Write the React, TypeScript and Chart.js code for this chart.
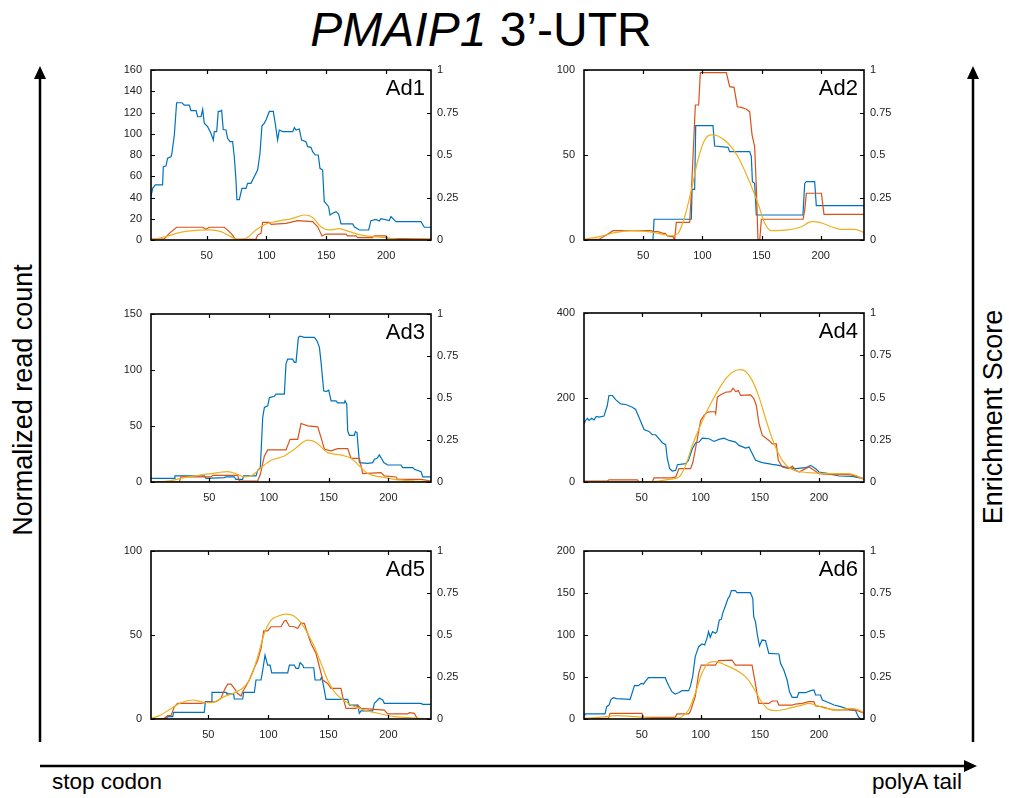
import React, { useEffect, useRef } from 'react';
import { Chart, registerables } from 'chart.js';

Chart.register(...registerables);
Chart.defaults.font.family = "'Liberation Sans', Arial, Helvetica, sans-serif";
Chart.defaults.font.size = 11;

type Pt = [number, number];

const BLUE = '#0072BD';
const RED = '#D95319';
const ORANGE = '#EDB120';

const xTickValues = [50, 100, 150, 200];
const scoreTicks = [0, 0.25, 0.5, 0.75, 1];

const ad1CountTicks = [0, 20, 40, 60, 80, 100, 120, 140, 160];
const ad2CountTicks = [0, 50, 100];
const ad3CountTicks = [0, 50, 100, 150];
const ad4CountTicks = [0, 200, 400];
const ad5CountTicks = [0, 50, 100];
const ad6CountTicks = [0, 50, 100, 150, 200];

// Ad1
const ad1Blue: Pt[] = [[3.5,40.8],[4.9,48.6],[7.1,51.8],[13.2,51.8],[13.8,69],[16,69.6],[17.4,77],[20.2,78.4],[21,81.6],[23,98.8],[24.9,129.2],[29.4,129.2],[31.3,127],[35.5,127],[36.9,121.7],[41.1,121.7],[42.5,116],[45.3,116],[46.7,123],[48,110],[50.8,106.7],[53.6,100.4],[55.6,94],[56.4,102],[58.4,102],[59.7,121],[61.1,121],[62.5,122],[63.9,104],[66.2,103.5],[67.5,95.7],[69.5,92.5],[71.7,92.5],[73.1,78.4],[74.5,56.5],[75.3,38],[77.3,38],[79.5,48.6],[82.9,48.6],[84.3,53.3],[87,53.3],[89.8,59.6],[92.6,65.9],[94.6,81.6],[96.2,107.3],[98.2,110],[99.6,113],[102.4,121],[105.7,121],[107.1,111.5],[109.3,94],[110.7,103.5],[113.5,102],[121.9,102],[123.3,105.8],[124.7,103.5],[127.4,104.5],[129.4,94],[133,92.5],[134.4,87.8],[137.2,87.2],[138.6,83.1],[140.8,80],[143.3,80],[144.7,67.5],[146.9,65.9],[148.3,36.1],[149.7,34.5],[151.9,31.4],[153.1,23.5],[155.3,25.1],[158.1,26.7],[160.3,24.5],[162.3,15.1],[172,15.1],[173.4,12.5],[177.6,9.4],[185.4,9.4],[187.3,18.2],[191.5,19.4],[194.3,17.9],[195.7,20.1],[202.6,18.2],[204,22],[208.2,17.3],[229.1,17.3],[231.9,12],[237.5,12]];
const ad1Red: Pt[] = [[3.5,0.006],[14.6,0.006],[18.8,0.039],[24.9,0.075],[46.7,0.075],[49.4,0.063],[52.2,0.075],[64.8,0.075],[68.9,0.049],[71.7,0.029],[74,0.004],[91.2,0.004],[92.6,0.029],[95.4,0.039],[96.8,0.104],[102.4,0.104],[103.8,0.092],[116.3,0.098],[126,0.114],[138.6,0.108],[142.8,0.078],[146.4,0.024],[149.7,0.035],[166.4,0.035],[167.8,0.024],[174.8,0.024],[176.2,0.014],[188.7,0.014],[190.1,0.024],[199.9,0.024],[201.3,0.01],[237.5,0.006]];
const ad1Orange: Pt[] = [[3.5,0],[16,0.02],[27.2,0.043],[38.3,0.055],[52.2,0.059],[62,0.049],[68.9,0.024],[75.9,0.004],[82.9,0.01],[91.2,0.059],[99.6,0.094],[110.7,0.112],[121.9,0.127],[131.6,0.147],[138.6,0.133],[145.5,0.078],[152.5,0.059],[160.9,0.067],[169.2,0.049],[183.1,0.024],[197.1,0.016],[211,0.004],[237.5,0.004]];

// Ad2
const ad2Blue: Pt[] = [[0,0],[58.3,0],[59.2,12.2],[90.7,12.2],[91.3,29.8],[93.5,29.8],[94.4,67.3],[109,67.3],[110.4,55.3],[121.7,54.5],[123.1,52],[140,52],[141.4,49],[142.3,34.3],[144.2,33.3],[145.6,14.7],[185,14.7],[186.5,33.3],[187.9,34.3],[194.9,34.3],[196.3,20.2],[236.6,20.2]];
const ad2Red: Pt[] = [[0,0],[13.2,0.006],[18.9,0.029],[24.5,0.055],[56.9,0.055],[58.3,0.049],[62.5,0.049],[66.8,0.039],[68.7,0.039],[70.4,0.024],[75.2,0.02],[76.6,0],[78,0.104],[89.3,0.104],[90.7,0.275],[94.1,0.794],[96.9,0.794],[98.3,0.984],[120.3,0.984],[123.1,0.902],[126.8,0.898],[129.6,0.784],[133,0.78],[137.2,0.769],[140,0.755],[142,0.618],[144.2,0.549],[145.6,0.314],[147,0],[148.5,0],[149.9,0.122],[185.1,0.122],[186.5,0.176],[187.9,0.275],[200.6,0.275],[202.8,0.151],[236.6,0.151]];
const ad2Orange: Pt[] = [[0,0.004],[13.2,0.02],[25.9,0.043],[40,0.055],[54.1,0.049],[65.4,0.035],[73.8,0.025],[79.4,0.039],[85.1,0.137],[90.7,0.294],[96.3,0.471],[102,0.588],[107.6,0.618],[113.2,0.612],[121.7,0.569],[130.1,0.49],[138.6,0.363],[147,0.216],[152.7,0.098],[158.3,0.055],[172.4,0.059],[183.7,0.078],[192.1,0.108],[199.2,0.104],[209,0.078],[217.5,0.063],[228.7,0.063],[236.6,0.043]];

// Ad3
const ad3Blue: Pt[] = [[1.1,3.3],[20.7,3.3],[21.2,5.4],[45.8,5.4],[47.2,3.3],[62.5,3.9],[63.9,4.5],[70.9,4.5],[72.3,2.4],[77.9,2.4],[78.7,5.4],[89.1,5.4],[90.5,10.4],[92.7,12.8],[94.7,57.6],[96.1,66.5],[98.9,68],[100.3,75.4],[104.5,76.6],[105.9,78.4],[112.8,78.4],[114.2,105.3],[115.6,109.7],[119.8,109.7],[121.2,106.8],[122.6,106.8],[124.6,129.1],[126,130.3],[129.6,129.1],[138,129.1],[140.2,126.1],[142.2,120.2],[143.6,106.8],[145.8,81.4],[147.8,80.8],[150,82],[152,72.5],[156.1,72.5],[157.5,70.7],[163.1,70.7],[163.7,72.5],[165.1,69.5],[165.9,45.6],[167.3,41.7],[171.5,41.7],[172.3,45],[173.7,44.1],[175.7,17.3],[182.7,16.7],[186.9,17.3],[188.3,20.3],[190.5,21.2],[192.4,24.2],[193.8,21.8],[196.1,17.3],[199.4,15.2],[210.6,15.2],[212,12.8],[220.4,12.8],[221.8,11.3],[227.4,9.2],[228.8,4.5],[235.7,4.5]];
const ad3Red: Pt[] = [[1.1,0],[24.8,0],[26.2,0.03],[51.4,0.03],[52.8,0.04],[73.7,0.04],[75.1,0.006],[90.5,0.006],[92.7,0.046],[96.1,0.155],[98.9,0.191],[114.2,0.191],[117.6,0.254],[124,0.254],[126.8,0.348],[132.4,0.334],[140.8,0.328],[143.6,0.264],[146.4,0.195],[152,0.185],[157.5,0.199],[165.9,0.199],[168.7,0.141],[175.7,0.141],[178.5,0.05],[193.8,0.056],[196.6,0.036],[206.4,0.03],[207.8,0.016],[227.4,0.016],[235.7,0.006]];
const ad3Orange: Pt[] = [[1.1,0.002],[15.1,0.006],[29,0.026],[43,0.042],[56.9,0.056],[65.3,0.062],[73.7,0.046],[79.3,0.03],[86.3,0.042],[93.3,0.085],[101.7,0.129],[112.8,0.155],[121.2,0.195],[132.4,0.249],[139.4,0.235],[149.1,0.175],[160.3,0.161],[168.7,0.141],[175.7,0.095],[182.7,0.05],[193.8,0.03],[205,0.016],[221.8,0.006],[235.7,0.002]];

// Ad4
const ad4Blue: Pt[] = [[1.2,137.8],[2.6,145.7],[4,151],[5.4,145.7],[7.7,151],[9.7,147],[11.6,155],[13.9,153.5],[18.1,156],[20.9,181],[22.3,204.7],[25.2,204.7],[28,195],[32.2,185],[36.5,183.5],[42.1,177],[44.9,171.7],[47.7,153.5],[52,124.4],[56.2,119.7],[59,111.8],[61.8,111.8],[64.6,102.4],[67.5,92.9],[70.3,88.2],[71.7,55],[73.7,31.5],[75.9,26],[78.8,27.6],[80.2,41],[87.2,43.3],[89.5,51.2],[92.9,78.7],[95.7,92.9],[98.5,94.5],[101.3,103.9],[107,102.4],[111.2,96],[115.4,100.8],[119.6,103.9],[123.9,98.4],[129.5,94.5],[132.3,86.6],[138,80.3],[140.8,82.7],[143.6,66.9],[146.4,51.2],[152.1,45.7],[160.5,41.7],[166.2,39.4],[173.2,33.9],[180.3,31.5],[188.7,33.9],[193,39.4],[197.2,31.5],[200,23.6],[208.5,19.7],[216.9,14.2],[228.2,13.4],[238.1,7.9]];
const ad4Red: Pt[] = [[1.2,0.006],[20.9,0.006],[22.3,0.012],[46.3,0.012],[47.7,0],[59,0],[60.4,0.024],[75.9,0.024],[78.8,0.03],[81.6,0.079],[91.4,0.079],[93.4,0.118],[97.1,0.256],[99.9,0.364],[102.7,0.394],[105.5,0.413],[112,0.417],[112.6,0.404],[114,0.502],[116.8,0.516],[121,0.531],[125.3,0.535],[127.3,0.555],[129.5,0.535],[131.8,0.541],[133.7,0.512],[142.2,0.516],[145,0.492],[147,0.453],[149.3,0.344],[152.1,0.276],[157.7,0.246],[160.5,0.226],[163.9,0.226],[165.6,0.128],[169,0.089],[174.6,0.079],[177.5,0.094],[180.3,0.069],[183.1,0.059],[188.7,0.079],[191.6,0.089],[195.8,0.069],[200,0.049],[211.3,0.043],[225.4,0.045],[231,0.035],[238.1,0.016]];
const ad4Orange: Pt[] = [[1.2,0],[47.7,0],[64.6,0.006],[73.1,0.016],[81.6,0.03],[87.2,0.098],[92.9,0.217],[98.5,0.315],[104.1,0.404],[109.8,0.482],[115.4,0.551],[121,0.61],[126.7,0.65],[133.7,0.665],[138,0.654],[143.6,0.6],[149.3,0.502],[154.9,0.374],[160.5,0.256],[166.2,0.161],[171.8,0.102],[177.5,0.073],[185.9,0.059],[197.2,0.053],[211.3,0.049],[225.4,0.049],[232.4,0.035],[238.1,0.016]];

// Ad5
const ad5Blue: Pt[] = [[2.2,0],[14.7,0],[16.1,1.4],[20.3,1.4],[21.1,4],[46.6,4],[47.5,10.3],[52.2,10.3],[53,15.8],[64.7,15.8],[65.5,14.9],[71.1,14.9],[71.6,11.9],[78.6,11.9],[79.4,15.8],[88.3,15.8],[89.7,23.2],[93.9,23.2],[95.3,29.1],[97.2,38],[99.4,32.1],[101.4,32.1],[102.8,27.5],[116.1,27.5],[117.5,32.1],[121.6,32.1],[123,30.1],[125.2,30.1],[126.4,33.5],[128.6,32.1],[129.4,30.5],[137.8,30.5],[138.9,23.2],[143.3,23.2],[144.4,25.1],[146.1,19.2],[148,11.7],[166.1,11.7],[167.5,8.3],[174.4,8.3],[175.8,3.4],[177.2,4.8],[186.9,4.8],[188.3,9.3],[192.5,12.3],[195.3,11.3],[196.6,9.3],[227.2,9.3],[228.6,8.7],[235.5,8.7]];
const ad5Red: Pt[] = [[2.2,0],[13.3,0.004],[16.1,0.02],[18.9,0.02],[21.6,0.073],[24.4,0.093],[43.9,0.093],[48,0.099],[56.4,0.103],[60.5,0.123],[63.3,0.172],[66.1,0.208],[68.9,0.208],[71.6,0.182],[74.4,0.152],[77.2,0.137],[78.6,0.162],[81.4,0.196],[84.1,0.232],[86.9,0.281],[91.1,0.35],[93.9,0.42],[96.1,0.525],[99.4,0.525],[102.2,0.549],[110.5,0.549],[113.3,0.584],[114.7,0.588],[117.5,0.552],[121.6,0.549],[124.4,0.539],[127.2,0.572],[130,0.568],[132.7,0.509],[135.5,0.45],[139.7,0.39],[142.5,0.311],[145.3,0.232],[149.4,0.212],[152.2,0.182],[160.5,0.182],[161.9,0.133],[164.7,0.063],[173,0.063],[174.4,0.083],[177.2,0.063],[196.6,0.053],[199.4,0.03],[216.1,0.03],[217.5,0.038],[221.6,0.034],[223.9,0.004],[235.5,0]];
const ad5Orange: Pt[] = [[2.2,0.004],[10.5,0.024],[18.9,0.063],[27.2,0.097],[36.9,0.113],[43.9,0.103],[52.2,0.097],[63.3,0.133],[71.6,0.156],[80,0.192],[85.5,0.251],[91.1,0.37],[96.6,0.509],[102.2,0.588],[107.8,0.612],[114.7,0.624],[121.6,0.612],[127.2,0.572],[132.7,0.509],[138.3,0.43],[143.9,0.331],[149.4,0.232],[155,0.162],[160.5,0.123],[168.9,0.083],[180,0.053],[191.1,0.034],[205,0.014],[221.6,0.006],[235.5,0]];

// Ad6
const ad6Blue: Pt[] = [[1.1,4.8],[1.9,6],[18.9,6],[20.3,14.7],[22.3,16.7],[24,23.4],[26,25.4],[28.8,24.2],[40.1,23.4],[41.6,29.8],[43.8,39.7],[47.2,39.7],[49.5,42.5],[51.5,41.7],[52.9,44.4],[55.7,49.2],[69.9,49.2],[71.3,44.4],[73.3,38.5],[75.5,32.5],[78.3,29.8],[81.2,31.3],[84,33.7],[89.7,33.7],[91.1,38.5],[93.1,50.4],[95.3,74.2],[98.2,86.1],[101,89.3],[103.3,88.1],[105.2,96],[106.6,104],[108,97.2],[110,104],[112.3,102],[113.7,104],[115.7,117.9],[117.4,118.7],[118.5,125.8],[120.8,134.5],[123.1,143.7],[124.2,145.6],[125.9,152.8],[129.3,152.8],[130.7,150.4],[142,150.4],[144,143.7],[144.8,121.8],[146.3,115.9],[147.7,102],[149.7,86.9],[151.9,94],[154.8,93.3],[157.6,78.2],[166.1,77.4],[167.5,66.3],[170.3,58.3],[173.1,46.4],[175.1,32.5],[177.4,25.8],[181.6,25.8],[183,31.3],[188.7,31.3],[193,33.7],[195.8,34.5],[197.2,28.6],[201.4,28.6],[202.9,22.6],[208.5,19.4],[212.8,16.7],[218.4,14.7],[226.9,10.7],[231.1,9.9],[233.4,2.8],[235.4,0],[238.2,0]];
const ad6Red: Pt[] = [[1.1,0.004],[21.8,0.004],[23.2,0.034],[50.1,0.034],[51.5,0.01],[78.3,0.01],[79.8,0.03],[89.7,0.03],[91.1,0.044],[95.3,0.133],[98.2,0.272],[100.4,0.321],[112.3,0.321],[115.1,0.347],[126.4,0.351],[129.3,0.321],[143.4,0.321],[145.7,0.232],[149.1,0.093],[157.6,0.093],[160.4,0.107],[164.7,0.107],[166.1,0.083],[177.4,0.083],[180.2,0.089],[185.9,0.093],[191.5,0.103],[195.8,0.103],[197.2,0.077],[202.9,0.073],[211.3,0.054],[231.1,0.054],[238.2,0.034]];
const ad6Orange: Pt[] = [[1.1,0],[13.3,0.01],[30.2,0.02],[44.4,0.014],[61.4,0.004],[78.3,0.004],[84,0.014],[89.7,0.054],[95.3,0.153],[101,0.272],[106.6,0.335],[112.3,0.341],[120.8,0.321],[132.1,0.282],[139.2,0.242],[144.8,0.183],[150.5,0.113],[156.2,0.063],[163.2,0.05],[174.6,0.063],[185.9,0.083],[191.5,0.093],[197.2,0.083],[205.7,0.063],[217,0.054],[226.9,0.063],[234,0.054],[238.2,0.034]];

const PLOT_W = 280;
const PAD_L = 50;
const PAD_R = 50;
const PAD_T = 20;
const PAD_B = 30;

interface PanelProps {
  label: string;
  blue: Pt[];
  red: Pt[];
  orange: Pt[];
  countTicks: number[];
  xMin: number;
  xMax: number;
  left: number;
  top: number;
  plotH: number;
}

function makeFramePlugin(label: string, countTicks: number[]) {
  return {
    id: 'panelFrame',
    afterDraw(chart: any) {
      const { ctx, chartArea: a, scales } = chart;
      ctx.save();
      ctx.strokeStyle = '#000';
      ctx.lineWidth = 1.6;
      ctx.strokeRect(a.left, a.top, a.right - a.left, a.bottom - a.top);
      ctx.lineWidth = 1.2;
      ctx.beginPath();
      for (const v of xTickValues) {
        const px = Math.round(scales.x.getPixelForValue(v)) + 0.5;
        ctx.moveTo(px, a.bottom);
        ctx.lineTo(px, a.bottom - 4);
        ctx.moveTo(px, a.top);
        ctx.lineTo(px, a.top + 4);
      }
      for (const v of countTicks) {
        const py = Math.round(scales.y.getPixelForValue(v)) + 0.5;
        ctx.moveTo(a.left, py);
        ctx.lineTo(a.left + 4, py);
      }
      for (const v of scoreTicks) {
        const py = Math.round(scales.y1.getPixelForValue(v)) + 0.5;
        ctx.moveTo(a.right, py);
        ctx.lineTo(a.right - 4, py);
      }
      ctx.stroke();
      ctx.fillStyle = '#000';
      ctx.font = "22px 'Liberation Sans', Arial, Helvetica, sans-serif";
      ctx.textAlign = 'right';
      ctx.textBaseline = 'alphabetic';
      ctx.fillText(label, a.right - 6, a.top + 25);
      ctx.restore();
    },
  };
}

function Panel(props: PanelProps) {
  const { label, blue, red, orange, countTicks, xMin, xMax, left, top, plotH } = props;
  const ref = useRef<HTMLCanvasElement>(null);
  const W = PLOT_W + PAD_L + PAD_R;
  const H = plotH + PAD_T + PAD_B;

  useEffect(() => {
    if (!ref.current) return;
    const tickFont = { size: 11, family: "'Liberation Sans', Arial, Helvetica, sans-serif" };
    const chart = new Chart(ref.current, {
      type: 'line',
      data: {
        datasets: [
          {
            data: orange as any,
            yAxisID: 'y1',
            borderColor: ORANGE,
            borderWidth: 1.2,
            pointRadius: 0,
            tension: 0.4,
            cubicInterpolationMode: 'monotone',
            fill: false,
            order: 0,
          },
          {
            data: red as any,
            yAxisID: 'y1',
            borderColor: RED,
            borderWidth: 1.2,
            pointRadius: 0,
            tension: 0,
            fill: false,
            order: 1,
          },
          {
            data: blue as any,
            yAxisID: 'y',
            borderColor: BLUE,
            borderWidth: 1.2,
            pointRadius: 0,
            tension: 0,
            fill: false,
            order: 2,
          },
        ],
      },
      options: {
        responsive: false,
        animation: false,
        events: [],
        layout: { padding: { top: PAD_T, left: 0, right: 0, bottom: 0 } },
        plugins: { legend: { display: false }, tooltip: { enabled: false } },
        scales: {
          x: {
            type: 'linear',
            min: xMin,
            max: xMax,
            grid: { display: false, drawTicks: false },
            border: { display: false },
            afterBuildTicks: (s: any) => {
              s.ticks = xTickValues.map((v) => ({ value: v }));
            },
            afterFit: (s: any) => {
              s.height = PAD_B;
            },
            ticks: {
              padding: 9,
              font: tickFont,
              color: '#222',
              autoSkip: false,
              maxRotation: 0,
              callback: (v: any) => String(v),
            },
          },
          y: {
            type: 'linear',
            position: 'left',
            min: 0,
            max: countTicks[countTicks.length - 1],
            grid: { display: false, drawTicks: false },
            border: { display: false },
            afterBuildTicks: (s: any) => {
              s.ticks = countTicks.map((v) => ({ value: v }));
            },
            afterFit: (s: any) => {
              s.width = PAD_L;
            },
            ticks: {
              padding: 9,
              font: tickFont,
              color: '#222',
              autoSkip: false,
              callback: (v: any) => String(v),
            },
          },
          y1: {
            type: 'linear',
            position: 'right',
            min: 0,
            max: 1,
            grid: { display: false, drawTicks: false },
            border: { display: false },
            afterBuildTicks: (s: any) => {
              s.ticks = scoreTicks.map((v) => ({ value: v }));
            },
            afterFit: (s: any) => {
              s.width = PAD_R;
            },
            ticks: {
              padding: 6,
              font: tickFont,
              color: '#222',
              autoSkip: false,
              callback: (v: any) => String(v),
            },
          },
        },
      } as any,
      plugins: [makeFramePlugin(label, countTicks)],
    });
    return () => chart.destroy();
  }, []);

  return (
    <canvas
      ref={ref}
      width={W}
      height={H}
      style={{ position: 'absolute', left: left - PAD_L, top: top - PAD_T, width: W, height: H }}
    />
  );
}

const textFont = "'Liberation Sans', Arial, Helvetica, sans-serif";

export default function App() {
  return (
    <div
      style={{
        position: 'absolute',
        left: 0,
        top: 0,
        width: 1009,
        height: 798,
        background: '#fff',
        overflow: 'hidden',
        fontFamily: textFont,
        color: '#000',
      }}
    >
      <div
        style={{
          position: 'absolute',
          left: 0,
          top: 6,
          width: 962,
          textAlign: 'center',
          fontSize: 48,
          lineHeight: '48px',
          whiteSpace: 'nowrap',
        }}
      >
        <i>PMAIP1</i> 3’-UTR
      </div>

      <svg
        width={1009}
        height={798}
        style={{ position: 'absolute', left: 0, top: 0, pointerEvents: 'none' }}
      >
        <line x1={40} y1={742} x2={40} y2={76} stroke="#000" strokeWidth={2.5} />
        <polygon points="40,66 34,79 46,79" fill="#000" />
        <line x1={973} y1={742} x2={973} y2={76} stroke="#000" strokeWidth={2.5} />
        <polygon points="973,66 967,79 979,79" fill="#000" />
        <line x1={40} y1={766} x2={966} y2={766} stroke="#000" strokeWidth={2.5} />
        <polygon points="977,766 964,760 964,772" fill="#000" />
      </svg>

      <div
        style={{
          position: 'absolute',
          left: 22.5,
          top: 400,
          transform: 'translate(-50%, -50%) rotate(-90deg)',
          fontSize: 27,
          lineHeight: '27px',
          whiteSpace: 'nowrap',
        }}
      >
        Normalized read count
      </div>
      <div
        style={{
          position: 'absolute',
          left: 993,
          top: 417,
          transform: 'translate(-50%, -50%) rotate(-90deg)',
          fontSize: 27,
          lineHeight: '27px',
          whiteSpace: 'nowrap',
        }}
      >
        Enrichment Score
      </div>
      <div
        style={{
          position: 'absolute',
          left: 52,
          top: 771,
          fontSize: 22.5,
          lineHeight: '22.5px',
          whiteSpace: 'nowrap',
        }}
      >
        stop codon
      </div>
      <div
        style={{
          position: 'absolute',
          left: 962,
          top: 771,
          transform: 'translateX(-100%)',
          fontSize: 22.5,
          lineHeight: '22.5px',
          whiteSpace: 'nowrap',
        }}
      >
        polyA tail
      </div>

      <Panel label="Ad1" blue={ad1Blue} red={ad1Red} orange={ad1Orange} countTicks={ad1CountTicks} xMin={3.5} xMax={237.5} left={151} top={70} plotH={170} />
      <Panel label="Ad2" blue={ad2Blue} red={ad2Red} orange={ad2Orange} countTicks={ad2CountTicks} xMin={0} xMax={236.6} left={584} top={70} plotH={170} />
      <Panel label="Ad3" blue={ad3Blue} red={ad3Red} orange={ad3Orange} countTicks={ad3CountTicks} xMin={1.1} xMax={235.7} left={151} top={314} plotH={168} />
      <Panel label="Ad4" blue={ad4Blue} red={ad4Red} orange={ad4Orange} countTicks={ad4CountTicks} xMin={1.2} xMax={238.1} left={584} top={313} plotH={169} />
      <Panel label="Ad5" blue={ad5Blue} red={ad5Red} orange={ad5Orange} countTicks={ad5CountTicks} xMin={2.2} xMax={235.5} left={151} top={551} plotH={168} />
      <Panel label="Ad6" blue={ad6Blue} red={ad6Red} orange={ad6Orange} countTicks={ad6CountTicks} xMin={1.1} xMax={238.2} left={584} top={551} plotH={168} />
    </div>
  );
}
